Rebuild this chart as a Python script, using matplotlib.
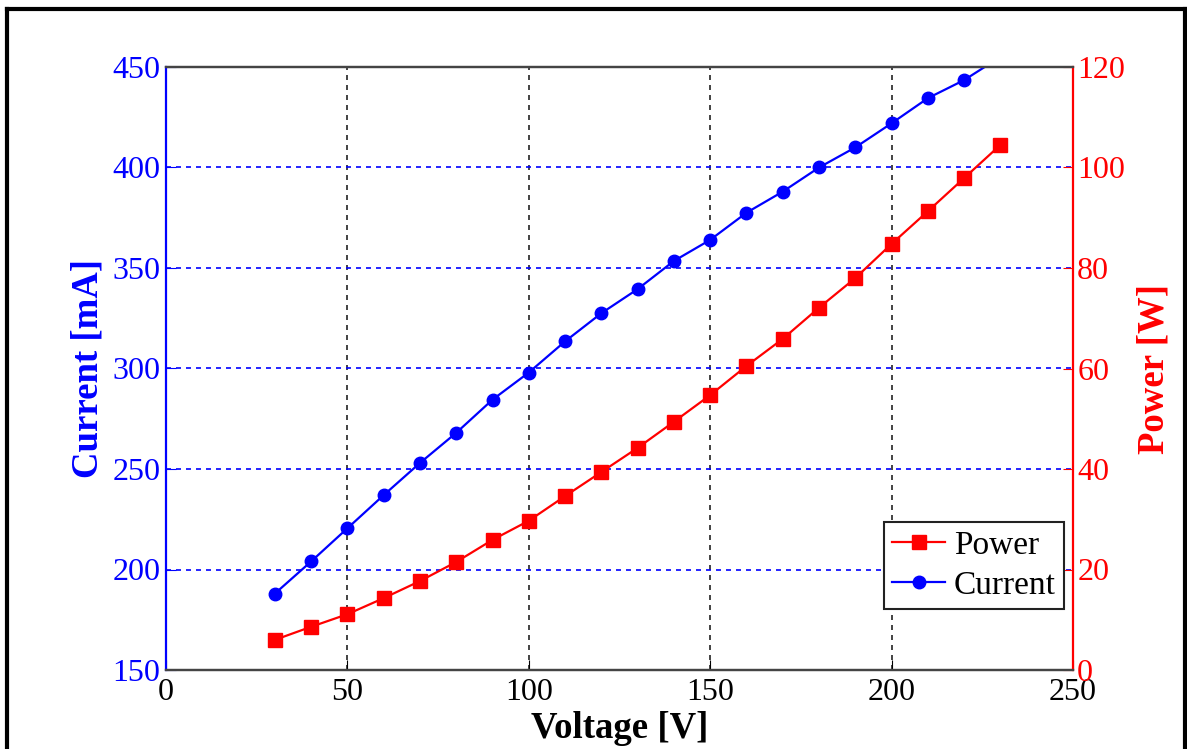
import matplotlib
matplotlib.use("Agg")
import matplotlib.pyplot as plt
from matplotlib.lines import Line2D

voltage = [30, 40, 50, 60, 70, 80, 90, 100, 110, 120, 130, 140, 150, 160,
           170, 180, 190, 200, 210, 220, 230]
current = [188, 204, 220.5, 237, 253, 268, 284.5, 298, 313.5, 327.5, 339.5,
           353.5, 364, 377.5, 388, 400, 410, 422, 434.5, 443.5, 455]
power = [6.0, 8.6, 11.1, 14.3, 17.7, 21.5, 25.9, 29.7, 34.6, 39.4, 44.2,
         49.4, 54.7, 60.5, 65.9, 72.1, 78.0, 84.8, 91.3, 97.9, 104.5]

xticks = [0, 50, 100, 150, 200, 250]
lticks = [150, 200, 250, 300, 350, 400, 450]
rticks = [0, 20, 40, 60, 80, 100, 120]

plt.rcParams['font.family'] = ['Liberation Serif', 'DejaVu Serif']

fig = plt.figure(figsize=(11.87, 7.49), dpi=100)
ax = fig.add_axes([166/1187, 1-670/749, (1073-166)/1187, (670-67)/749])
ax2 = ax.twinx()

blue = '#0000ff'
red = '#ff0000'

l1, = ax.plot(voltage, current, '-o', color=blue, lw=1.6, ms=9, zorder=3)
l2, = ax2.plot(voltage, power, '-s', color=red, lw=1.6, ms=9.5, zorder=3)

ax.set_xlim(0, 250)
ax.set_ylim(150, 450)
ax2.set_ylim(0, 120)
ax.set_xticks(xticks)
ax.set_yticks(lticks)
ax2.set_yticks(rticks)

ax.tick_params(axis='x', direction='in', length=7, labelsize=23, colors='black', pad=6,
               top=False)
ax.tick_params(axis='y', direction='in', length=7, labelsize=23, colors=blue, pad=4)
ax2.tick_params(axis='y', direction='in', length=7, labelsize=23, colors=red, pad=3)

# grids
for x in xticks[1:-1]:
    ax.axvline(x, color='#222222', lw=1.2, ls=(0, (3, 3)), zorder=1)
for y in lticks[1:-1]:
    ax.axhline(y, color=blue, lw=1.2, ls=(0, (3, 3)), zorder=1)

ax.spines['left'].set_color(blue)
ax.spines['bottom'].set_color('#444444')
ax.spines['top'].set_color('#444444')
ax.spines['right'].set_visible(False)
ax2.spines['right'].set_color(red)
ax2.spines['left'].set_visible(False)
ax2.spines['top'].set_color('#444444')
ax2.spines['bottom'].set_color('#444444')
for s in list(ax.spines.values()) + list(ax2.spines.values()):
    s.set_linewidth(1.6)

ax.set_xlabel('Voltage [V]', fontsize=26.5, fontweight='bold', labelpad=3)
ax.set_ylabel('Current [mA]', fontsize=26.5, fontweight='bold', color=blue, labelpad=5)
ax2.set_ylabel('Power [W]', fontsize=26.5, fontweight='bold', color=red, labelpad=8)

leg = ax2.legend([l2, l1], ['Power', 'Current'], loc='lower right',
                 bbox_to_anchor=(0.99, 0.101), fontsize=24, fancybox=False,
                 edgecolor='#222222', framealpha=1, handlelength=1.6,
                 borderpad=0.25, labelspacing=0.28, handletextpad=0.25,
                 borderaxespad=0)
leg.get_frame().set_linewidth(1.5)

# figure border
fig.add_artist(Line2D([7/1187, 7/1187], [0, 1-9/749], color='black', lw=3,
                      transform=fig.transFigure))
fig.add_artist(Line2D([7/1187, 1185/1187], [1-9/749, 1-9/749], color='black', lw=3,
                      transform=fig.transFigure))
fig.add_artist(Line2D([1185/1187, 1185/1187], [0, 1-9/749], color='black', lw=3,
                      transform=fig.transFigure))

fig.savefig('out.png', dpi=100)
